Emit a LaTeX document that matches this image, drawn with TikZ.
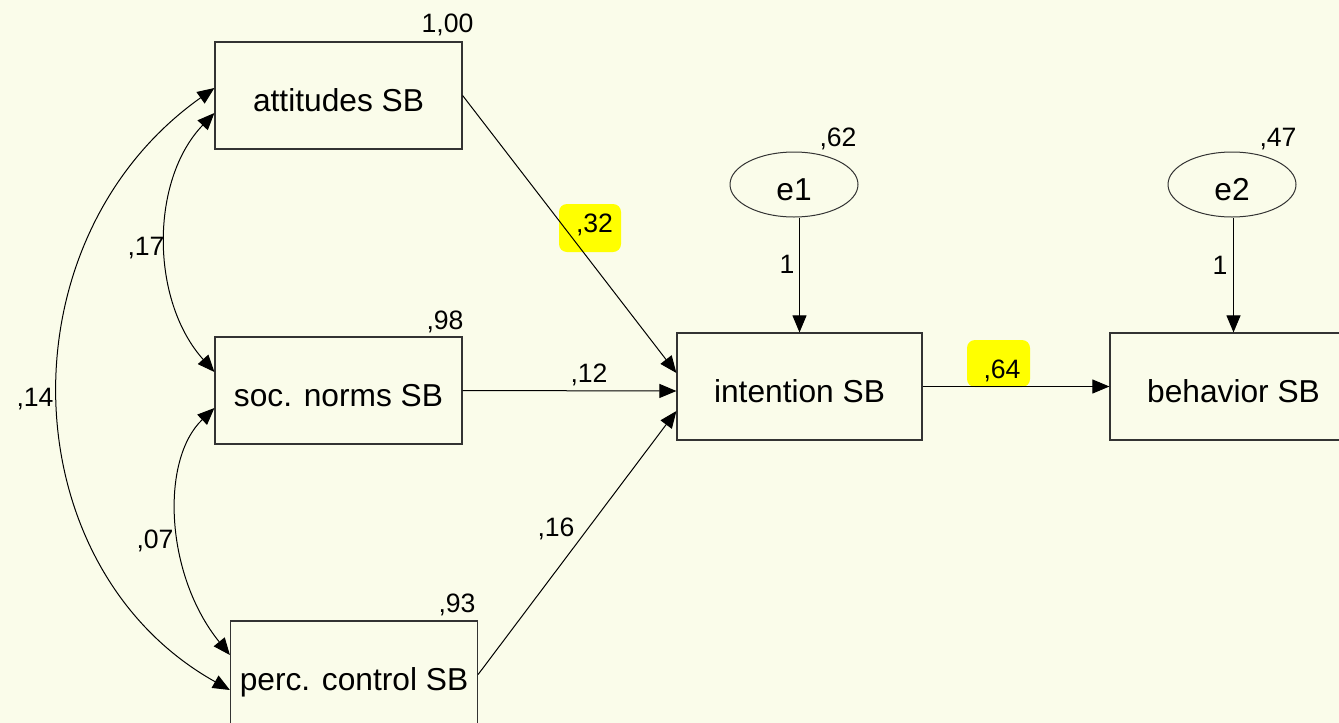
\documentclass[tikz,border=0pt]{standalone}
\usepackage{fontspec}
\setmainfont{Liberation Sans}
\usetikzlibrary{arrows.meta,shapes.geometric,calc}
\definecolor{paper}{RGB}{250,252,234}
\definecolor{hilite}{RGB}{255,255,0}
\begin{document}
\begin{tikzpicture}[x=0.5pt,y=-0.5pt,
  var/.style={draw=black!80, line width=0.6pt, rectangle, minimum width=123.5pt,
    minimum height=53.5pt, inner sep=0pt, font=\fontsize{15.85}{19}\selectfont,
    text height=15.85pt, text depth=0pt},
  err/.style={draw=black!80, line width=0.5pt, ellipse, minimum width=64pt,
    minimum height=32.5pt, inner sep=0pt, font=\fontsize{15.85}{19}\selectfont,
    text height=15.85pt, text depth=0pt},
  val/.style={font=\fontsize{13.3}{16}\selectfont, inner sep=0pt,
    text height=9.6pt, text depth=0pt},
  causal/.style={line width=0.5pt, -{Triangle[length=8.5pt,width=7pt]}},
  cov/.style={line width=0.5pt, {Triangle[length=8.5pt,width=7pt]}-{Triangle[length=8.5pt,width=7pt]}},
  hlbox/.style={fill=hilite, rounded corners=4pt}
]
% canvas
\fill[paper] (0,0) rectangle (1339,723);
\useasboundingbox (0,0) rectangle (1339,723);
\clip (0,0) rectangle (1339,723);

% observed variables
\node[var] (att)  at (338.5,95.5)  {attitudes SB};
\node[var] (soc)  at (338.5,390.5) {soc. norms SB};
\node[var] (perc) at (354,674.5)   {perc. control SB};
\node[var, minimum width=122.5pt] (int) at (799.5,386.5) {intention SB};
\node[var] (beh)  at (1233.5,386.5) {behavior SB};

% error terms
\node[err] (e1) at (794,184.5)  {e1};
\node[err] (e2) at (1232,184.5) {e2};

% highlighted coefficients
\fill[hlbox] (559,204) rectangle (621,252);
\fill[hlbox] (967,340) rectangle (1030,387);

% regression paths
\draw[causal] (att.east)  -- ($(int.west)+(0,-13.5)$);
\draw[causal] (soc.east)  -- ($(int.west)+(0,4.5)$);
\draw[causal] (perc.east) -- ($(int.west)+(0,24.5)$);
\draw[causal] (int.east)  -- (beh.west);
\draw[causal] (e1.south -| int.north) -- (int.north);
\draw[causal] (e2.south -| beh.north) -- (beh.north);

% covariances
\draw[cov] ($(att.west)+(0,17.5)$) .. controls (150,180) and (150,300) .. ($(soc.west)+(0,-18.5)$);
\draw[cov] ($(soc.west)+(0,17.5)$) .. controls (160,460) and (165,575) .. ($(perc.west)+(0,-19.5)$);
\draw[cov] ($(att.west)+(0,-7.5)$) .. controls (0,240) and (10,567) .. ($(perc.west)+(0,15.5)$);

% variances
\node[val] (v-att)  at (447.5,23) {1,00};
\node[val] (v-soc)  at (445,320)  {,98};
\node[val] (v-perc) at (457,603)  {,93};
\node[val] (v-e1)   at (838,137)  {,62};
\node[val] (v-e2)   at (1278,137) {,47};

% path coefficients
\node[val] (b-att)  at (594.5,223) {,32};
\node[val] (b-soc)  at (589,373)   {,12};
\node[val] (b-perc) at (556,527)   {,16};
\node[val] (b-int)  at (1002,369)  {,64};
\node[val] (w-e1)   at (787,264)   {1};
\node[val] (w-e2)   at (1220,265)  {1};

% covariance estimates
\node[val] (c-as) at (146,246) {,17};
\node[val] (c-sp) at (155,539) {,07};
\node[val] (c-ap) at (35,397)  {,14};
\end{tikzpicture}
\end{document}
